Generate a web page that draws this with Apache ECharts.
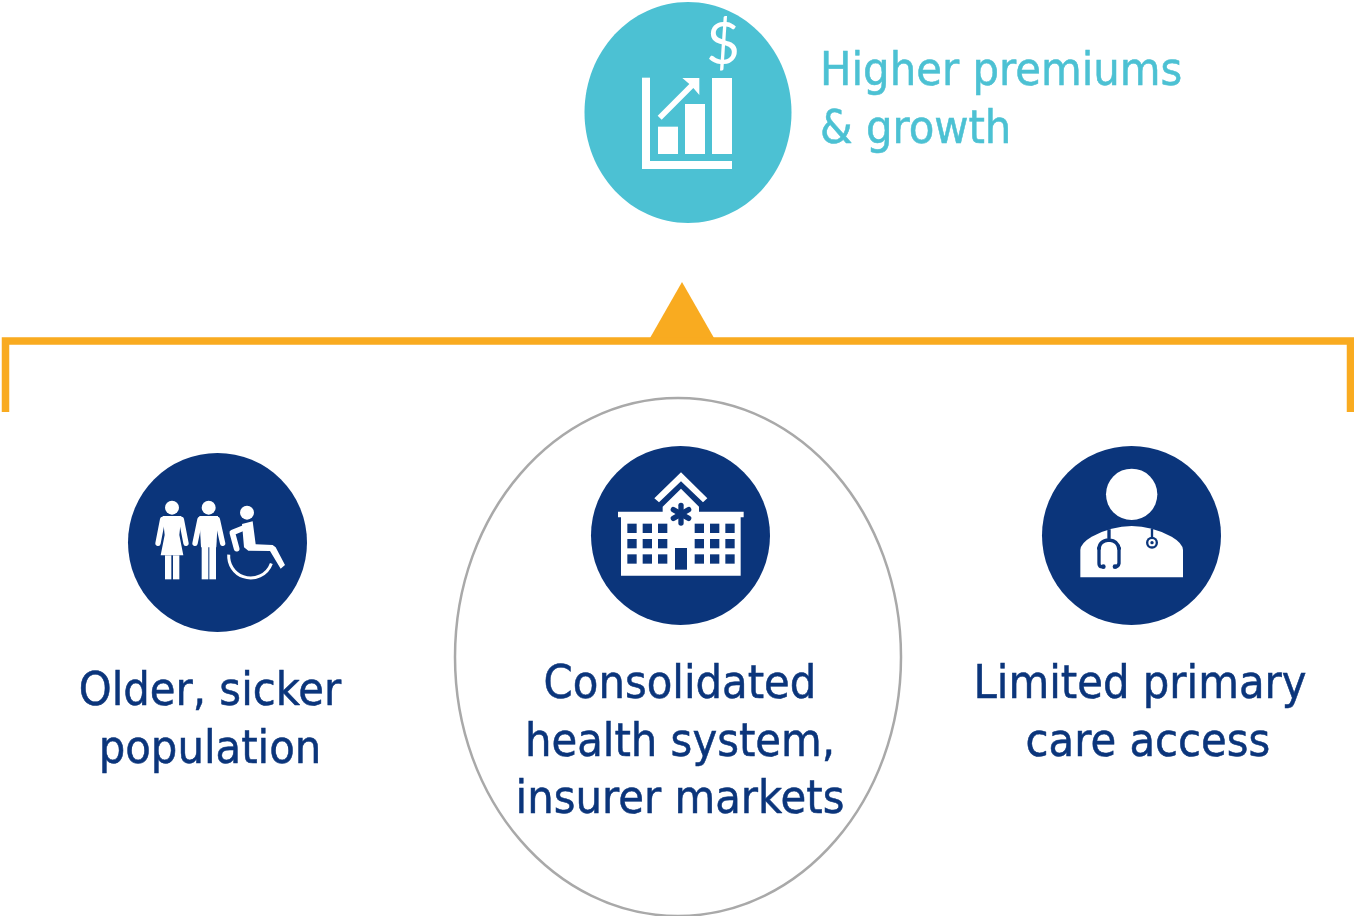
<!DOCTYPE html>
<html>
<head>
<meta charset="utf-8">
<title>Higher premiums and growth</title>
<script src="https://cdn.jsdelivr.net/npm/echarts@6/dist/echarts.min.js"></script>
<style>
  html, body { margin: 0; padding: 0; background: #fff; }
  #chart { width: 1354px; height: 916px; }
</style>
</head>
<body>
<div id="chart"></div>
<script>
// text content
const outcomeLines = ['Higher premiums', '& growth']
const driverLeftLines = ['Older, sicker', 'population']
const driverMiddleLines = ['Consolidated', 'health system,', 'insurer markets']
const driverRightLines = ['Limited primary', 'care access']

const teal = '#4cc1d3'
const navy = '#0b357b'
const orange = '#f9ab20'
const grey = '#a9a9a9'
const white = '#ffffff'
const fontFamily = '"DejaVu Sans Condensed", "DejaVu Sans", sans-serif'
const fontSize = 46.5

// graphic has no plain path type, so the two curved doctor shapes are registered
echarts.graphic.registerShape('doctorBody', echarts.graphic.extendPath('M136 412 L136 330 Q136 310 170 290 Q230 258 290 258 Q350 258 410 290 Q444 310 444 330 L444 412 Z', {}))
echarts.graphic.registerShape('stethoscope', echarts.graphic.extendPath('M222 268 L222 300 M205 380 L197 380 Q192 378 192 370 L192 328 Q192 302 222 300 Q250 302 252 328 L252 370 Q250 380 240 380', {}))

const chart = echarts.init(document.getElementById('chart'), null, { renderer: 'canvas' })

const label = (text, x, y, fill, align = 'center') => ({
  type: 'text',
  x, y,
  style: { text, fill, stroke: fill, lineWidth: 0.5, fontFamily, fontSize, textAlign: align, textVerticalAlign: 'middle' }
})
const rect = (x, y, width, height, fill) => ({ type: 'rect', shape: { x, y, width, height }, style: { fill } })
const poly = (points, fill) => ({ type: 'polygon', shape: { points }, style: { fill } })
const circle = (cx, cy, r, fill) => ({ type: 'circle', shape: { cx, cy, r }, style: { fill } })
const line = (points, stroke, lineWidth) => ({
  type: 'polyline',
  shape: { points },
  style: { fill: null, stroke, lineWidth, lineCap: 'round', lineJoin: 'round' }
})
const icon = (x, y, children) => ({ type: 'group', x, y, scaleX: 1 / 3, scaleY: 1 / 3, children })

const growthIcon = icon(580, 0, [
  rect(186, 233, 24, 274, white),
  rect(186, 483, 270, 24, white),
  rect(234, 380, 60, 82, white),
  rect(315, 312, 60, 150, white),
  rect(396, 234, 60, 228, white),
  poly([[233, 347], [328, 252], [307, 234], [358, 234], [358, 285], [340, 264], [245, 359]], white)
])

const peopleIcon = icon(120, 450, [
  // woman
  circle(156, 173, 21, white),
  poly([[128, 198], [184, 198], [178, 255], [190, 316], [122, 316], [134, 255]], white),
  line([[128, 208], [114, 280]], white, 16),
  line([[184, 208], [198, 280]], white, 16),
  rect(135, 316, 19, 72, white),
  rect(159, 316, 19, 72, white),
  // man
  circle(266, 173, 21, white),
  poly([[238, 198], [294, 198], [289, 292], [243, 292]], white),
  line([[240, 208], [225, 280]], white, 16),
  line([[292, 208], [308, 280]], white, 16),
  rect(245, 290, 20, 98, white),
  rect(268, 290, 20, 98, white),
  // wheelchair user
  circle(381, 188, 21, white),
  poly([[366, 222], [398, 214], [407, 283], [458, 285], [467, 292], [495, 345], [482, 356], [450, 303], [385, 302], [372, 292]], white),
  line([[378, 231], [337, 248], [350, 296]], white, 17),
  {
    type: 'arc',
    shape: { cx: 392, cy: 318, r: 66, startAngle: Math.PI * 0.11, endAngle: Math.PI * 1.02, clockwise: true },
    style: { fill: null, stroke: white, lineWidth: 9 }
  }
])

const windowCols = [127, 173, 219, 329, 375, 421]
const windowRows = [251, 297, 343]
const hospitalIcon = icon(585, 440, [
  poly([[288, 97], [367, 175], [354, 187], [288, 124], [222, 187], [208, 175]], white),
  poly([[288, 146], [342, 200], [342, 215], [476, 215], [476, 232], [467, 232], [467, 407], [108, 407], [108, 232], [99, 232], [99, 215], [233, 215], [233, 200]], white),
  ...windowRows.flatMap(y => windowCols.map(x => rect(x, y, 28, 28, navy))),
  rect(270, 324, 36, 65, navy),
  line([[288, 196], [288, 249]], navy, 16),
  line([[265, 209], [311, 235]], navy, 16),
  line([[265, 235], [311, 209]], navy, 16)
])

const doctorIcon = icon(1035, 440, [
  circle(290, 163, 77, white),
  { type: 'doctorBody', style: { fill: white } },
  { type: 'stethoscope', style: { fill: null, stroke: navy, lineWidth: 10 } },
  circle(205, 380, 7, navy),
  circle(240, 380, 7, navy),
  circle(192, 325, 6, navy),
  circle(252, 325, 6, navy),
  line([[351, 268], [351, 295]], navy, 7),
  circle(351, 308, 18, navy),
  circle(351, 308, 11, white),
  circle(351, 308, 5, navy)
])

const elements = [
  // outcome
  { type: 'ellipse', shape: { cx: 688, cy: 112.5, rx: 103.5, ry: 110.5 }, style: { fill: teal } },
  growthIcon,
  { type: 'text', x: 723, y: 45, style: { text: '$', fill: white, fontFamily: 'Lato', fontSize: 58, textAlign: 'center', textVerticalAlign: 'middle' } },
  label(outcomeLines[0], 820, 73, teal, 'left'),
  label(outcomeLines[1], 820, 131, teal, 'left'),

  // bracket
  poly([[682, 282], [714, 338], [650, 338]], orange),
  {
    type: 'polyline',
    shape: { points: [[5.5, 412], [5.5, 341], [1350.5, 341], [1350.5, 412]] },
    style: { fill: null, stroke: orange, lineWidth: 7.5, lineJoin: 'miter' }
  },

  // highlight around the middle driver
  { type: 'ellipse', shape: { cx: 678, cy: 657, rx: 223, ry: 259 }, style: { fill: 'none', stroke: grey, lineWidth: 2.5 } },

  // drivers
  circle(217.5, 542.5, 89.5, navy),
  peopleIcon,
  circle(680.5, 535.5, 89.5, navy),
  hospitalIcon,
  circle(1131.5, 535.5, 89.5, navy),
  doctorIcon,

  label(driverLeftLines[0], 210, 693, navy),
  label(driverLeftLines[1], 210, 751, navy),
  label(driverMiddleLines[0], 680, 686, navy),
  label(driverMiddleLines[1], 680, 744, navy),
  label(driverMiddleLines[2], 680, 801, navy),
  label(driverRightLines[0], 1140, 686, navy),
  label(driverRightLines[1], 1148, 744, navy)
]

chart.setOption({ animation: false, backgroundColor: '#ffffff', graphic: { elements } })
</script>
</body>
</html>
